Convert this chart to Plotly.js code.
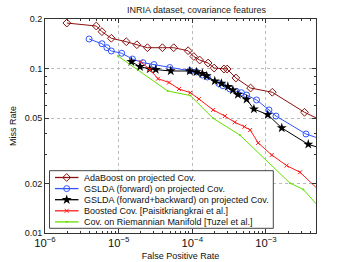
<!DOCTYPE html>
<html>
<head>
<meta charset="utf-8">
<script src="https://cdn.plot.ly/plotly-3.0.1.min.js"></script>
<style>html,body{margin:0;padding:0;background:#fff;}#chart{width:349px;height:262px;}</style>
</head>
<body>
<div id="chart"></div>
<script>
// ---- data (false positive rate vs miss rate) ----
const seriesNames = [
  "AdaBoost on projected Cov.",
  "GSLDA (forward) on projected Cov.",
  "GSLDA (forward+backward) on projected Cov.",
  "Boosted Cov. [Paisitkriangkrai et al.]",
  "Cov. on Riemannian Manifold [Tuzel et al.]"
];
const adaX = [1.98e-6, 4.97e-6, 5.93e-6, 7.96e-6, 1.27e-5, 1.77e-5, 2.46e-5, 3.93e-5, 5.6e-5, 8.77e-5, 1.05e-4, 1.26e-4, 1.64e-4, 1.98e-4, 2.69e-4, 2.97e-4, 3.91e-4, 6.19e-4, 1.22e-3, 3.34e-3, 5.62e-3];
const adaY = [0.189, 0.1813, 0.1675, 0.1527, 0.1455, 0.1395, 0.1338, 0.1338, 0.1338, 0.1283, 0.1183, 0.1126, 0.108, 0.1007, 0.0993, 0.0993, 0.0876, 0.0761, 0.0717, 0.0542, 0.0484];
const fwdX = [3.97e-6, 5.93e-6, 6.93e-6, 7.96e-6, 1.10e-5, 1.54e-5, 2.14e-5, 3.02e-5, 4.94e-5, 9.25e-5, 1.14e-4, 1.37e-4, 1.60e-4, 2.29e-4, 2.60e-4, 3.24e-4, 3.99e-4, 4.65e-4, 5.46e-4, 7.46e-4, 1.10e-3, 1.37e-3, 3.50e-3, 5.62e-3];
const fwdY = [0.1511, 0.1415, 0.1338, 0.1278, 0.1238, 0.1142, 0.1085, 0.1057, 0.1014, 0.0970, 0.0953, 0.0913, 0.0888, 0.0811, 0.0786, 0.0751, 0.0725, 0.0713, 0.0690, 0.0644, 0.0560, 0.0514, 0.0400, 0.0372];
const fbX = [1.49e-5, 1.95e-5, 2.64e-5, 3.19e-5, 5.10e-5, 9.25e-5, 1.14e-4, 1.37e-4, 1.57e-4, 2.02e-4, 2.49e-4, 3.04e-4, 3.56e-4, 4.16e-4, 5.46e-4, 6.87e-4, 1.06e-3, 1.64e-3, 3.76e-3, 5.62e-3];
const fbY = [0.1100, 0.1026, 0.0993, 0.0986, 0.0966, 0.0966, 0.0953, 0.0932, 0.0901, 0.0839, 0.0811, 0.0777, 0.0740, 0.0695, 0.0650, 0.0567, 0.0524, 0.0435, 0.0346, 0.0327];
const boostX = [1.99e-5, 2.64e-5, 3.42e-5, 4.84e-5, 6.61e-5, 9.39e-5, 1.23e-4, 1.92e-4, 2.77e-4, 3.78e-4, 5.10e-4, 6.11e-4, 7.85e-4, 1.20e-3, 1.91e-3, 2.90e-3, 5.62e-3];
const boostY = [0.1096, 0.0989, 0.0867, 0.0822, 0.0751, 0.0713, 0.0653, 0.0560, 0.0514, 0.0471, 0.0443, 0.0423, 0.0353, 0.0298, 0.0257, 0.0234, 0.0177];
const riemX = [9.78e-6, 4.64e-5, 9.39e-5, 1.92e-4, 4.43e-4, 2.12e-3, 3.22e-3, 5.62e-3];
const riemY = [0.1192, 0.0730, 0.0685, 0.0498, 0.0394, 0.0201, 0.0184, 0.0139];
const yTickVals = [0.01, 0.02, 0.05, 0.1, 0.2];
const yTickText = ["0.01", "0.02", "0.05", "0.1", "0.2"];

// ---- styles / geometry ----
const colors = ["#8b1010", "#3355ff", "#000000", "#ff1a1a", "#66e000"];
const markers = [
  {symbol: "diamond-open", size: 6, line: {width: 1}},
  {symbol: "circle-open", size: 6, line: {width: 1}},
  {symbol: "star", size: 7.5, line: {width: 0}},
  {symbol: "x-thin-open", size: 4, line: {width: 1}},
  {symbol: "circle", size: 2, line: {width: 0}}
];
const xs = [adaX, fwdX, fbX, boostX, riemX];
const ys = [adaY, fwdY, fbY, boostY, riemY];
const XR = [-6, -2.32], YR = [-2, Math.log10(0.2)];
const PL = 45, PW = 271, PT = 19, PH = 214;
// legend placement helpers (page pixels -> domain fraction / data value)
const fx = px => (px - PL) / PW;
const fy = py => (PT + PH - py) / PH;
const dx = px => Math.pow(10, XR[0] + fx(px) * (XR[1] - XR[0]));
const dy = py => Math.pow(10, YR[0] + fy(py) * (YR[1] - YR[0]));

function mk(i) {
  const m = Object.assign({color: colors[i]}, markers[i]);
  m.line = Object.assign({color: colors[i]}, markers[i].line);
  return m;
}

const traces = [];
for (let i = 0; i < 5; i++) {
  traces.push({
    x: xs[i], y: ys[i], type: "scatter", mode: "lines+markers",
    name: seriesNames[i], showlegend: false,
    line: {color: colors[i], width: 1}, marker: mk(i), cliponaxis: true
  });
}

// compact legend (Plotly's own legend rows are too tall for this size)
const rowY = [177.5, 188.6, 199.7, 210.8, 221.9];
const annotations = [];
for (let i = 0; i < 5; i++) {
  traces.push({x: [dx(55), dx(78.5)], y: [dy(rowY[i]), dy(rowY[i])], type: "scatter",
    mode: "lines", line: {color: colors[i], width: 1.3}, showlegend: false, hoverinfo: "skip"});
  traces.push({x: [dx(66.7)], y: [dy(rowY[i])], type: "scatter",
    mode: "markers", marker: mk(i), showlegend: false, hoverinfo: "skip"});
  annotations.push({x: fx(81.5), y: fy(rowY[i]), xref: "x domain", yref: "y domain", text: seriesNames[i],
    showarrow: false, xanchor: "left", yanchor: "middle",
    font: {family: "Liberation Sans, Arial, sans-serif", size: 9, color: "#111"}});
}

const axisFont = {family: "Liberation Sans, Arial, sans-serif", size: 9, color: "#111"};
const layout = {
  width: 349, height: 262,
  margin: {l: PL, r: 349 - PL - PW, t: PT, b: 262 - PT - PH, pad: 0},
  paper_bgcolor: "#fff", plot_bgcolor: "#fff",
  showlegend: false,
  font: axisFont,
  title: {text: "INRIA dataset, covariance features", x: 196.5 / 349, xanchor: "center",
    y: 1 - 10 / 262, yanchor: "middle",
    font: {family: "Liberation Sans, Arial, sans-serif", size: 9, color: "#222"}},
  xaxis: {
    type: "log", range: XR, dtick: 1, exponentformat: "power",
    showgrid: true, gridcolor: "#bbbbbb", griddash: "dot", gridwidth: 1,
    ticks: "inside", ticklen: 4, tickcolor: "#333", showline: true, linecolor: "#333", linewidth: 1,
    mirror: "ticks", zeroline: false, tickfont: axisFont,
    minor: {ticks: "inside", ticklen: 2, tickcolor: "#333", showgrid: false},
    title: {text: "False Positive Rate", font: axisFont, standoff: 4}
  },
  yaxis: {
    type: "log", range: YR, tickmode: "array", tickvals: yTickVals, ticktext: yTickText,
    showgrid: true, gridcolor: "#bbbbbb", griddash: "dot", gridwidth: 1,
    ticks: "inside", ticklen: 4, tickcolor: "#333", showline: true, linecolor: "#333", linewidth: 1,
    mirror: "ticks", zeroline: false, tickfont: axisFont,
    minor: {ticks: "inside", ticklen: 2, tickcolor: "#333", showgrid: false,
            tickvals: [0.03, 0.04, 0.06, 0.07, 0.08, 0.09]},
    title: {text: "Miss Rate", font: axisFont, standoff: 6}
  },
  shapes: [{type: "rect", xref: "x", yref: "y",
    x0: dx(49.5), x1: dx(273.3), y0: dy(228.3), y1: dy(170.7),
    fillcolor: "#ffffff", line: {color: "#444", width: 1}, layer: "between"}],
  annotations: annotations
};
Plotly.newPlot("chart", traces, layout, {staticPlot: true, displayModeBar: false});
</script>
</body>
</html>
